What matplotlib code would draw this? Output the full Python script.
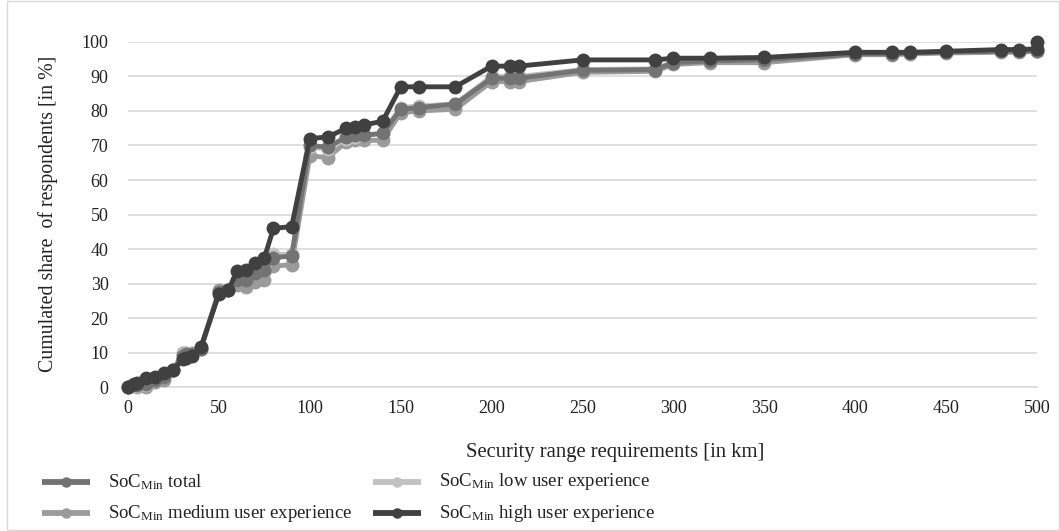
import matplotlib
matplotlib.use("Agg")
import matplotlib.pyplot as plt
from matplotlib.lines import Line2D
from matplotlib.patches import Rectangle

plt.rcParams['font.family'] = ['Liberation Serif', 'DejaVu Serif']
plt.rcParams['mathtext.fontset'] = 'custom'
plt.rcParams['mathtext.rm'] = 'Liberation Serif'
plt.rcParams['mathtext.it'] = 'Liberation Serif:italic'

km_total = [0, 5, 10, 15, 20, 25, 30, 32, 35, 40, 50, 55, 60, 65, 70, 75, 80, 90, 100, 110, 120, 125, 130, 140,
            150, 160, 180, 200, 210, 215, 250, 290, 300, 320, 350, 400, 420, 430, 450, 480, 490, 500]
total = [0, 0.5, 1, 2, 3, 5, 9, 9.5, 9.5, 11, 27.5, 28, 31, 31, 33, 34, 37.5, 38, 70, 69.5, 72.5, 73, 73, 73.5,
         80.5, 81, 82, 89.5, 89.5, 89.5, 91.8, 92, 94, 94.5, 94.8, 96.5, 96.5, 96.8, 97, 97.3, 97.3, 97.5]
low = [0, 0.3, 0.5, 2, 3, 5, 9.5, 10, 10, 11, 27.5, 28, 31, 31.5, 33.5, 35, 38.5, 38.5, 69.5, 69, 72, 72.5, 73, 73.5,
       81, 81.5, 82, 90, 90, 90, 92, 92.2, 94.2, 94.5, 94.8, 96.5, 96.5, 96.8, 97, 97.3, 97.3, 97.5]
medium = [0, 0, 0, 1.5, 2, 5, 10, 10, 10, 11, 28, 28, 29.5, 29, 30.5, 31, 35, 35.5, 67, 66.5, 71, 71.5, 71.5, 71.5,
          79.5, 80, 80.5, 88.5, 88.5, 88.5, 91.2, 91.5, 93.5, 94, 94, 96.3, 96.3, 96.5, 96.8, 97, 97, 97.3]
km_high = [0, 3, 5, 10, 15, 20, 25, 30, 32, 35, 40, 50, 55, 60, 65, 70, 75, 80, 90, 100, 110, 120, 125, 130, 140,
           150, 160, 180, 200, 210, 215, 250, 290, 300, 320, 350, 400, 420, 430, 450, 480, 490, 500, 500]
high = [0, 1, 1.2, 2.5, 3, 4, 5, 8, 8.5, 9, 11.5, 27, 28, 33.5, 34, 36, 37.5, 46, 46.5, 72, 72.5, 75, 75.5, 76, 77,
        87, 87, 87, 93, 93, 93, 94.8, 94.8, 95.3, 95.3, 95.5, 97, 97, 97, 97.3, 97.8, 97.8, 98, 100]

x_ticks = list(range(0, 501, 50))
y_ticks = list(range(0, 101, 10))

labels = {
    'total': r'SoC$_{\mathrm{Min}}$ total',
    'medium': r'SoC$_{\mathrm{Min}}$ medium user experience',
    'low': r'SoC$_{\mathrm{Min}}$ low user experience',
    'high': r'SoC$_{\mathrm{Min}}$ high user experience',
}
colors = {'total': '#737373', 'medium': '#9b9b9b', 'low': '#c2c2c2', 'high': '#404040'}

series = [
    ('medium', km_total, medium),
    ('low', km_total, low),
    ('total', km_total, total),
    ('high', km_high, high),
]

fig = plt.figure(figsize=(10.6, 5.31), dpi=100)
ax = fig.add_axes([0.1208, 0.271, 0.8575, 0.650])

for key, xs, ys in series:
    ax.plot(xs, ys, color=colors[key], lw=3.5, marker='o', ms=9, clip_on=False, zorder=3,
            solid_joinstyle='round')

ax.set_xlim(0, 500)
ax.set_ylim(0, 100)
ax.set_xticks(x_ticks)
ax.set_yticks(y_ticks)
ax.tick_params(axis='both', length=0, labelsize=13, colors='#222222')
ax.tick_params(axis='x', pad=9)
ax.tick_params(axis='y', pad=14)
ax.grid(axis='y', color='#d9d9d9', lw=1.2)
ax.set_axisbelow(True)
for s in ['top', 'right', 'left']:
    ax.spines[s].set_visible(False)
ax.spines['bottom'].set_color('#d9d9d9')
ax.spines['bottom'].set_linewidth(1.2)

fig.text(0.580, 1 - 452 / 531, 'Security range requirements [in km]', ha='center', va='center',
         fontsize=14.9, color='#222222')
fig.text(48 / 1060, 1 - 214 / 531, 'Cumulated share  of respondents [in %]', ha='center', va='center',
         rotation=90, fontsize=14.3, color='#222222')

# legend (manual placement)
W, H = 1060, 531
entries = [('total', 42, 482), ('low', 373, 482), ('medium', 42, 513), ('high', 373, 513)]
for key, x0, y0 in entries:
    yf = 1 - y0 / H
    fig.add_artist(Line2D([x0 / W, (x0 + 48) / W], [yf, yf], transform=fig.transFigure,
                          color=colors[key], lw=4.2, solid_capstyle='butt'))
    fig.add_artist(Line2D([(x0 + 24) / W], [yf], transform=fig.transFigure, color=colors[key],
                          marker='o', ms=6.5, lw=0))
    fig.text((x0 + 66) / W, yf, labels[key], ha='left', va='center', fontsize=13.5, color='#222222')

fig.patches.append(Rectangle((7 / W, 0.001), 1 - 8 / W, 0.998, transform=fig.transFigure, fill=False,
                             edgecolor='#d9d9d9', lw=1))

fig.savefig('out.png', dpi=100, facecolor='white')
